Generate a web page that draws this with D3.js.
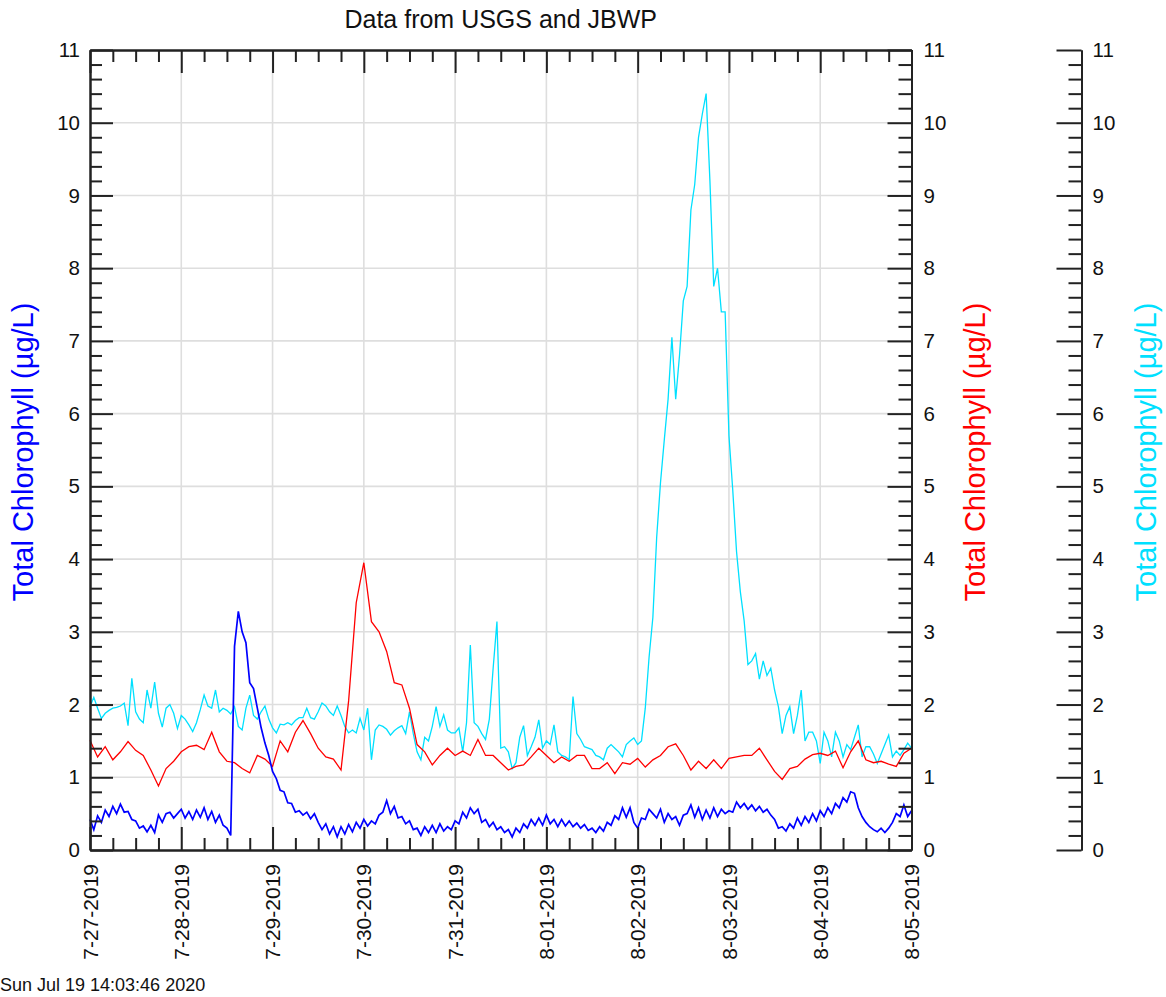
<!DOCTYPE html>
<html><head><meta charset="utf-8">
<script src="https://cdn.jsdelivr.net/npm/d3@7"></script>
<style>
html,body{margin:0;padding:0;background:#fff;}
svg{display:block;font-family:"Liberation Sans",Arial,Helvetica,sans-serif;}
</style></head>
<body>
<svg id="c" width="1166" height="997"></svg>
<script>
// ---- data ----
const startDate = Date.UTC(2019, 6, 27, 0, 0);   // 7-27-2019 00:00
const dayLabels = ["7-27-2019","7-28-2019","7-29-2019","7-30-2019","7-31-2019","8-01-2019","8-02-2019","8-03-2019","8-04-2019","8-05-2019"];
const yTicks = [0,1,2,3,4,5,6,7,8,9,10,11];
const titleText = "Data from USGS and JBWP";
const yLabel = "Total Chlorophyll (\u00b5g/L)";
const footerText = "Sun Jul 19 14:03:46 2020";

// red series: every 2 hours
const redStepH = 2;
const redValues = [1.51,1.28,1.42,1.24,1.35,1.49,1.37,1.30,1.10,0.88,
1.12,1.22,1.35,1.42,1.44,1.38,1.62,1.35,1.22,1.20,
1.12,1.06,1.30,1.25,1.15,1.50,1.35,1.62,1.78,1.60,
1.40,1.28,1.25,1.10,2.05,3.40,3.95,3.14,3.00,2.73,
2.30,2.27,1.95,1.45,1.35,1.17,1.30,1.40,1.30,1.36,
1.30,1.52,1.30,1.30,1.20,1.10,1.15,1.17,1.28,1.40,
1.30,1.20,1.28,1.22,1.30,1.30,1.12,1.12,1.20,1.05,
1.20,1.18,1.26,1.14,1.24,1.30,1.42,1.46,1.30,1.10,
1.22,1.12,1.24,1.12,1.26,1.28,1.30,1.30,1.40,1.24,
1.08,0.97,1.12,1.15,1.25,1.31,1.33,1.30,1.36,1.13,
1.35,1.50,1.24,1.20,1.22,1.18,1.15,1.33,1.40];

// cyan series: hourly
const cyanStepH = 1;
const cyanValues = [1.97,2.10,1.95,1.81,1.88,1.92,1.95,1.96,1.98,2.02,
1.71,2.36,1.90,1.80,1.75,2.20,1.95,2.31,1.88,1.69,
1.95,2.00,1.88,1.67,1.85,1.80,1.72,1.63,1.75,1.93,
2.13,1.98,1.95,2.20,1.90,1.95,1.92,1.87,1.97,1.70,
1.65,1.95,2.13,1.85,1.80,1.90,1.98,1.80,1.68,1.61,
1.73,1.72,1.75,1.72,1.78,1.82,1.82,1.95,1.82,1.80,
1.90,2.02,1.98,1.90,1.85,1.98,1.85,1.70,1.61,1.65,
1.61,1.81,1.65,1.95,1.24,1.65,1.72,1.70,1.66,1.58,
1.64,1.68,1.71,1.60,1.90,1.60,1.35,1.24,1.55,1.50,
1.70,1.97,1.70,1.86,1.65,1.61,1.61,1.68,1.35,1.75,
2.82,1.75,1.70,1.60,1.52,1.80,2.50,3.14,1.40,1.42,
1.35,1.12,1.20,1.55,1.71,1.30,1.42,1.55,1.79,1.40,
1.50,1.45,1.72,1.35,1.30,1.28,1.24,2.11,1.60,1.52,
1.42,1.40,1.38,1.30,1.28,1.24,1.40,1.45,1.40,1.35,
1.28,1.45,1.50,1.54,1.45,1.50,1.95,2.65,3.20,4.30,
5.05,5.64,6.20,7.05,6.20,6.80,7.55,7.75,8.80,9.15,
9.80,10.12,10.40,9.20,7.75,8.00,7.40,7.40,5.70,4.95,
4.10,3.55,3.15,2.55,2.60,2.70,2.35,2.60,2.40,2.50,
2.20,1.97,1.60,1.85,1.97,1.60,1.85,2.20,1.50,1.62,
1.62,1.50,1.19,1.62,1.50,1.28,1.62,1.50,1.28,1.45,
1.38,1.55,1.72,1.28,1.42,1.42,1.32,1.19,1.32,1.45,
1.58,1.28,1.36,1.30,1.38,1.47,1.40];

// blue series: hourly
const blueStepH = 1;
const blueValues = [0.42,0.28,0.47,0.38,0.55,0.46,0.60,0.50,0.63,0.52,
0.53,0.42,0.40,0.30,0.33,0.25,0.34,0.24,0.48,0.38,
0.50,0.52,0.44,0.50,0.56,0.44,0.53,0.42,0.55,0.45,
0.58,0.42,0.53,0.38,0.48,0.34,0.30,0.20,2.80,3.28,
3.00,2.85,2.30,2.22,1.95,1.68,1.47,1.30,1.08,0.98,
0.82,0.80,0.65,0.64,0.52,0.54,0.48,0.52,0.43,0.50,
0.38,0.28,0.36,0.22,0.32,0.18,0.32,0.22,0.35,0.25,
0.38,0.30,0.42,0.33,0.40,0.36,0.48,0.52,0.68,0.50,
0.60,0.44,0.46,0.36,0.40,0.28,0.30,0.20,0.32,0.24,
0.34,0.24,0.36,0.26,0.32,0.28,0.40,0.36,0.52,0.44,
0.58,0.50,0.56,0.38,0.42,0.32,0.38,0.28,0.32,0.24,
0.28,0.18,0.30,0.24,0.36,0.30,0.42,0.34,0.44,0.34,
0.48,0.36,0.42,0.32,0.42,0.33,0.40,0.32,0.37,0.30,
0.35,0.27,0.30,0.24,0.32,0.26,0.38,0.34,0.47,0.42,
0.58,0.45,0.58,0.38,0.30,0.44,0.42,0.56,0.50,0.44,
0.56,0.38,0.50,0.42,0.46,0.34,0.48,0.50,0.62,0.45,
0.58,0.42,0.55,0.44,0.58,0.46,0.56,0.50,0.54,0.52,
0.66,0.58,0.64,0.56,0.62,0.54,0.60,0.52,0.56,0.48,
0.42,0.30,0.32,0.26,0.36,0.30,0.44,0.34,0.46,0.38,
0.50,0.40,0.54,0.46,0.58,0.50,0.64,0.58,0.72,0.66,
0.80,0.78,0.58,0.46,0.38,0.32,0.28,0.25,0.30,0.24,
0.30,0.38,0.50,0.46,0.62,0.46,0.54];

// ---- layout ----
const HOUR = 3600e3, DAY = 24*HOUR;
const L = 90, R = 911.5, T = 50, B = 850, R2 = 1081.5;
const svg = d3.select("#c");
const font = '"Liberation Sans",Arial,Helvetica,sans-serif';

const x = d3.scaleUtc().domain([new Date(startDate), new Date(startDate + 9*DAY)]).range([L, R]);
const y = d3.scaleLinear().domain([0, 11]).range([B, T]);

const dayTicks = dayLabels.map((_, i) => new Date(startDate + i*DAY));
const quarterTicks = d3.range(0, 9*4 + 1).filter(i => i % 4).map(i => new Date(startDate + i*DAY/4));
const minorY = d3.range(0, 56).filter(i => i % 5).map(i => i/5);

// grid
const grid = svg.append("g").attr("stroke", "#dedede").attr("stroke-width", 1.6);
grid.selectAll("line.gx").data(dayTicks.slice(1, -1)).join("line")
  .attr("x1", d => x(d)).attr("x2", d => x(d)).attr("y1", T).attr("y2", B);
grid.selectAll("line.gy").data(yTicks.slice(1, -1)).join("line")
  .attr("x1", L).attr("x2", R).attr("y1", d => y(d)).attr("y2", d => y(d));

// series
function series(values, stepH, color, width) {
  const pts = values.map((v, i) => [new Date(startDate + i*stepH*HOUR), v]);
  svg.append("path").datum(pts)
    .attr("fill", "none").attr("stroke", color).attr("stroke-width", width)
    .attr("stroke-linejoin", "miter")
    .attr("d", d3.line().x(d => x(d[0])).y(d => y(d[1])));
}
series(cyanValues, cyanStepH, "#00e0ff", 1.3);
series(redValues, redStepH, "#ff0000", 1.3);
series(blueValues, blueStepH, "#0000ff", 1.7);

// axes
function styleAxis(g) {
  g.selectAll("path.domain").attr("stroke", "#222").attr("stroke-width", 2);
  g.selectAll(".tick line").attr("stroke", "#222").attr("stroke-width", 2);
  g.selectAll(".tick text").attr("font-family", font).attr("font-size", 20.5).attr("fill", "#111");
}
const fmt = d3.format("d");
// left
svg.append("g").attr("transform", `translate(${L},0)`)
  .call(d3.axisLeft(y).tickValues(yTicks).tickFormat(fmt).tickSize(-23).tickSizeOuter(0).tickPadding(10)).call(styleAxis);
svg.append("g").attr("transform", `translate(${L},0)`)
  .call(d3.axisLeft(y).tickValues(minorY).tickFormat("").tickSize(-12).tickSizeOuter(0)).call(styleAxis);
// right
svg.append("g").attr("transform", `translate(${R},0)`)
  .call(d3.axisRight(y).tickValues(yTicks).tickFormat(fmt).tickSize(-24).tickSizeOuter(0).tickPadding(12)).call(styleAxis);
svg.append("g").attr("transform", `translate(${R},0)`)
  .call(d3.axisRight(y).tickValues(minorY).tickFormat("").tickSize(-13).tickSizeOuter(0)).call(styleAxis);
// third axis
svg.append("g").attr("transform", `translate(${R2},0)`)
  .call(d3.axisRight(y).tickValues(yTicks).tickFormat(fmt).tickSize(-25).tickSizeOuter(0).tickPadding(11)).call(styleAxis);
svg.append("g").attr("transform", `translate(${R2},0)`)
  .call(d3.axisRight(y).tickValues(minorY).tickFormat("").tickSize(-13).tickSizeOuter(0)).call(styleAxis);
// bottom & top
svg.append("g").attr("transform", `translate(0,${B})`)
  .call(d3.axisBottom(x).tickValues(dayTicks).tickFormat("").tickSize(-23).tickSizeOuter(0)).call(styleAxis);
svg.append("g").attr("transform", `translate(0,${B})`)
  .call(d3.axisBottom(x).tickValues(quarterTicks).tickFormat("").tickSize(-12).tickSizeOuter(0)).call(styleAxis);
svg.append("g").attr("transform", `translate(0,${T})`)
  .call(d3.axisTop(x).tickValues(dayTicks).tickFormat("").tickSize(-23).tickSizeOuter(0)).call(styleAxis);
svg.append("g").attr("transform", `translate(0,${T})`)
  .call(d3.axisTop(x).tickValues(quarterTicks).tickFormat("").tickSize(-12).tickSizeOuter(0)).call(styleAxis);

// date labels (rotated)
svg.append("g").selectAll("text").data(dayTicks).join("text")
  .attr("transform", d => `translate(${x(d)},${B + 14}) rotate(-90)`)
  .attr("dy", "0.36em").attr("text-anchor", "end")
  .attr("font-family", font).attr("font-size", 21).attr("fill", "#111")
  .text((d, i) => dayLabels[i]);

// title
svg.append("text").attr("x", (L + R)/2).attr("y", 28).attr("text-anchor", "middle")
  .attr("font-family", font).attr("font-size", 25).attr("fill", "#111").text(titleText);

// axis titles
const yMid = (T + B)/2 + 2;
[[33, "#0000ff"], [985, "#ff0000"], [1156, "#00e0ff"]].forEach(([tx, col]) => {
  svg.append("text").attr("transform", `translate(${tx},${yMid}) rotate(-90)`)
    .attr("text-anchor", "middle").attr("font-family", font).attr("font-size", 29)
    .attr("fill", col).text(yLabel);
});

// footer
svg.append("text").attr("x", 0).attr("y", 991).attr("font-family", font)
  .attr("font-size", 18).attr("fill", "#111").text(footerText);
</script>
</body></html>
